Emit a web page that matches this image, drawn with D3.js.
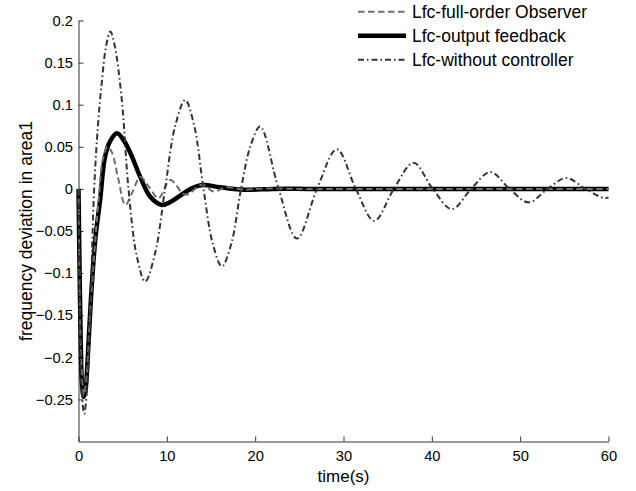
<!DOCTYPE html>
<html lang="en">
	<head>
		<meta charset="UTF-8" />
		<title>lfc area1</title>
		<style>
			body { margin: 0; background: #fff; }
			text { font-family: "Liberation Sans", Arial, sans-serif; fill: #000; }
		</style>
	</head>
	<body>
		<svg width="636" height="491" id="mainsvg"></svg>
		<script src="https://cdn.jsdelivr.net/npm/d3@7"></script>
		<script>
			// data
			const xTicks = [0, 10, 20, 30, 40, 50, 60]
			const yTicks = [0.2, 0.15, 0.1, 0.05, 0, -0.05, -0.1, -0.15, -0.2, -0.25]
			const legendLabels = ["Lfc-full-order Observer", "Lfc-output feedback", "Lfc-without controller"]

			const tObserver = [0, 0.12, 0.3, 0.6, 0.9, 1.3, 1.8, 2.3, 2.75, 3.3, 3.8, 4.5, 5.3, 6.1, 7.0, 8.0, 9.06, 10.4, 12.1, 14.0, 15.3, 16.8, 18.7, 21, 25, 30, 40, 50, 60]
			const vObserver = [0, -0.11, -0.2, -0.245, -0.225, -0.15, -0.075, -0.01, 0.035, 0.05, 0.043, 0.012, -0.019, -0.004, 0.014, 0.002, -0.011, 0.0105, -0.007, 0.005, -0.003, 0.002, -0.001, 0.0005, 0, 0, 0, 0, 0]

			const tOutput = [0, 0.1, 0.25, 0.4, 0.6, 0.8, 1.0, 1.4, 1.9, 2.45, 3.0, 3.6, 4.35, 5.1, 5.9, 7.0, 8.1, 9.44, 10.5, 11.5, 12.7, 14.0, 16.0, 18.7, 22, 26, 30, 40, 50, 60]
			const vOutput = [0, -0.08, -0.18, -0.232, -0.247, -0.238, -0.21, -0.132, -0.06, -0.013, 0.038, 0.057, 0.066, 0.058, 0.042, 0.014, -0.009, -0.019, -0.015, -0.008, 0, 0.0046, 0.002, -0.001, 0, 0, 0, 0, 0, 0]

			const tNoCtrl = [0, 0.15, 0.35, 0.65, 0.95, 1.3, 1.75, 2.2, 2.65, 3.1, 3.6, 4.1, 4.9, 5.66, 6.6, 7.55, 8.7, 9.8, 10.95, 12.08, 13.1, 14.15, 15.2, 16.23, 17.3, 18.4, 19.5, 20.57, 22.65, 24.73, 27.0, 29.25, 31.4, 33.48, 35.7, 37.93, 40.1, 42.27, 44.45, 46.61, 48.8, 50.94, 53.1, 55.21, 57.4, 59.5, 60]
			const vNoCtrl = [0, -0.14, -0.24, -0.267, -0.24, -0.16, -0.005, 0.075, 0.128, 0.168, 0.187, 0.17, 0.106, 0, -0.08, -0.11, -0.075, 0, 0.075, 0.1056, 0.075, 0, -0.065, -0.092, -0.065, 0, 0.052, 0.074, 0, -0.059, 0, 0.047, 0, -0.038, 0, 0.031, 0, -0.024, 0, 0.02, 0, -0.016, 0, 0.013, 0, -0.011, -0.01]

			const svg = d3.select("#mainsvg")

			const x = d3.scaleLinear().domain([0, 60]).range([78.5, 608.5])
			const y = d3.scaleLinear().domain([-0.3, 0.2]).range([441.5, 20.5])

			// axes, matlab style: ticks point inward, no box
			svg
				.append("g")
				.attr("transform", `translate(0,${y(-0.3)})`)
				.call(d3.axisBottom(x).tickValues(xTicks).tickSizeInner(-5).tickSizeOuter(0).tickPadding(9))
			svg
				.append("g")
				.attr("transform", `translate(${x(0)},0)`)
				.call(
					d3
						.axisLeft(y)
						.tickValues(yTicks)
						.tickSizeInner(-5)
						.tickSizeOuter(0)
						.tickPadding(5.5)
						.tickFormat((d) => (d === 0 ? "0" : d3.format("")(d)))
				)
			svg.selectAll(".domain").attr("stroke", "#333")
			svg.selectAll(".tick line").attr("stroke", "#333")
			svg.selectAll(".tick text").style("font-size", "14.7px").attr("fill", "#000")

			svg
				.append("text")
				.attr("x", (x(0) + x(60)) / 2)
				.attr("y", 482)
				.attr("text-anchor", "middle")
				.style("font-size", "17px")
				.text("time(s)")

			svg
				.append("text")
				.attr("transform", `translate(32,${(y(0.2) + y(-0.3)) / 2}) rotate(-90)`)
				.attr("text-anchor", "middle")
				.style("font-size", "17.5px")
				.text("frequency deviation in area1")

			const line = d3
				.line()
				.x((d) => x(d[0]))
				.y((d) => y(d[1]))
				.curve(d3.curveCatmullRom.alpha(0.5))

			const series = [
				{ t: tOutput, v: vOutput, color: "#000", width: 4.5, dash: null },
				{ t: tObserver, v: vObserver, color: "#6e6e6e", width: 2, dash: "6.5,3.5" },
				{ t: tNoCtrl, v: vNoCtrl, color: "#333", width: 2, dash: "6,3,1.5,3" },
			]

			svg
				.append("g")
				.selectAll("path")
				.data(series)
				.join("path")
				.attr("fill", "none")
				.attr("stroke", (d) => d.color)
				.attr("stroke-width", (d) => d.width)
				.attr("stroke-dasharray", (d) => d.dash)
				.attr("stroke-linejoin", "round")
				.attr("d", (d) => line(d.t.map((t, i) => [t, d.v[i]])))

			// legend, no box
			const legendStyles = [series[1], series[0], series[2]]
			const legend = svg
				.append("g")
				.selectAll("g")
				.data(legendLabels)
				.join("g")
				.attr("transform", (d, i) => `translate(358,${11.7 + i * 24})`)
			legend
				.append("line")
				.attr("x1", 0)
				.attr("x2", 48)
				.attr("stroke", (d, i) => legendStyles[i].color)
				.attr("stroke-width", (d, i) => legendStyles[i].width)
				.attr("stroke-dasharray", (d, i) => legendStyles[i].dash)
			legend
				.append("text")
				.attr("x", 54)
				.attr("dy", "0.35em")
				.style("font-size", "17.5px")
				.text((d) => d)
		</script>
	</body>
</html>
